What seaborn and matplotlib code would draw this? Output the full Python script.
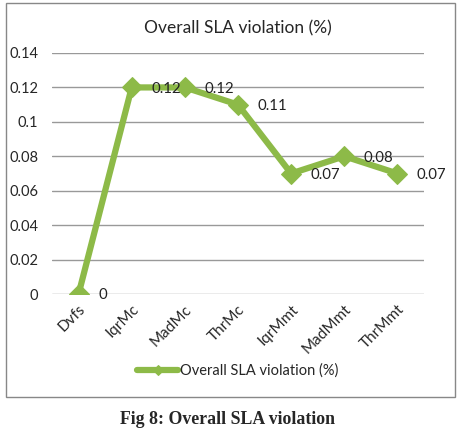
import pandas as pd
import seaborn as sns
import matplotlib.pyplot as plt
from matplotlib.patches import Rectangle

# Chart data
methods = ['Dvfs', 'IqrMc', 'MadMc', 'ThrMc', 'IqrMmt', 'MadMmt', 'ThrMmt']
sla_violation = [0, 0.12, 0.12, 0.11, 0.07, 0.08, 0.07]
value_labels = ['0', '0.12', '0.12', '0.11', '0.07', '0.08', '0.07']
y_ticks = [0, 0.02, 0.04, 0.06, 0.08, 0.1, 0.12, 0.14]
y_tick_labels = ['0', '0.02', '0.04', '0.06', '0.08', '0.1', '0.12', '0.14']

df = pd.DataFrame({'method': methods, 'sla': sla_violation})

sns.set_style('white')
plt.rcParams['font.family'] = ['Lato', 'DejaVu Sans']

green = '#8DBA48'

fig = plt.figure(figsize=(4.59, 4.28), dpi=100)
ax = fig.add_axes([52 / 459, 1 - 294 / 428, (424 - 52) / 459, (294 - 53) / 428])

sns.lineplot(data=df, x='method', y='sla', ax=ax, color=green, linewidth=4.5,
             marker='D', markersize=10, markeredgecolor=green,
             label='Overall SLA violation (%)', sort=False)

# Data labels to the right of each point
for i, (v, lab) in enumerate(zip(sla_violation, value_labels)):
    ax.annotate(lab, (i, v), xytext=(14, -1), textcoords='offset points',
                va='center', ha='left', fontsize=10.8, color='#222222')

ax.set_xlim(-0.5, len(methods) - 0.5)
ax.set_ylim(0, 0.14)
ax.set_yticks(y_ticks)
ax.set_yticklabels(y_tick_labels, fontsize=10.5)
ax.set_xticks(range(len(methods)))
ax.set_xticklabels(methods, fontsize=11, rotation=45, ha='right', rotation_mode='anchor')
ax.tick_params(axis='y', length=0, pad=10)
ax.tick_params(axis='x', length=0, pad=6)
ax.grid(axis='y', color='#999999', linewidth=1)
ax.set_axisbelow(True)
for s in ax.spines.values():
    s.set_visible(False)
ax.set_xlabel('')
ax.set_ylabel('')

ax.set_title('Overall SLA violation (%)', fontsize=12.5, pad=14)

# Legend below the plot
leg = ax.legend(loc='center', bbox_to_anchor=(0.5, (294 - 371) / (294 - 53)),
                frameon=False, fontsize=10.5, handlelength=2.8, handletextpad=0.15,
                bbox_transform=ax.transAxes)
leg.legend_handles[0].set_markersize(5)

# Outer border
fig.patches.append(Rectangle((6 / 459, 1 - 397 / 428), (455 - 6) / 459, (397 - 3) / 428,
                             transform=fig.transFigure, fill=False,
                             edgecolor='#888888', linewidth=1))

# Caption
fig.text(228 / 459, 1 - 419 / 428, 'Fig 8: Overall SLA violation', ha='center', va='center',
         fontsize=12.8, fontweight='bold', family=['Liberation Serif'])

plt.savefig('out.png', dpi=100)
